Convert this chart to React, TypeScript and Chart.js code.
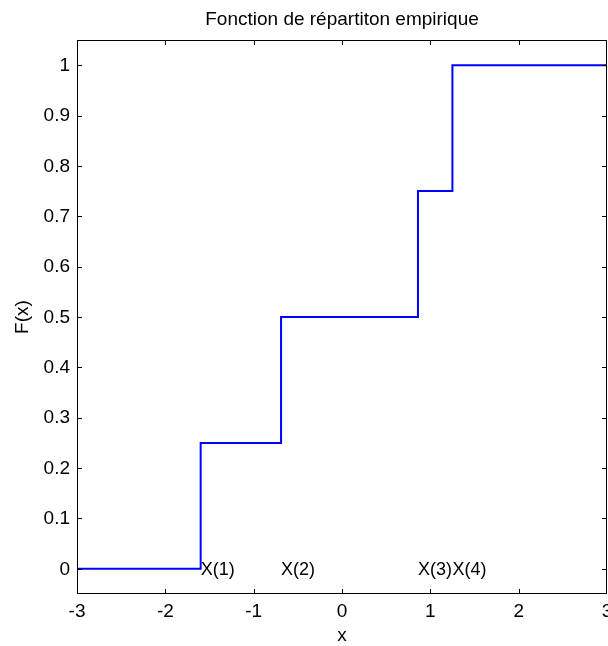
import React, { useEffect, useRef } from "react";
import { Chart, registerables } from "chart.js";

Chart.register(...registerables);

// ---- data ----
const titleText = "Fonction de répartiton empirique";
const xTitle = "x";
const yTitle = "F(x)";
const sampleX = [-1.6, -0.69, 0.86, 1.25]; // ordered sample X(1)..X(4)
const cdfValues = [0.25, 0.5, 0.75, 1];
const sampleLabels = ["X(1)", "X(2)", "X(3)", "X(4)"];
const xRange = [-3, 3];
const yRange = [-0.05, 1.05];
const startValue = 0;
const xTicks = [-3, -2, -1, 0, 1, 2, 3];
const xTickLabels = ["-3", "-2", "-1", "0", "1", "2", "3"];
const yTicks = [0, 0.1, 0.2, 0.3, 0.4, 0.5, 0.6, 0.7, 0.8, 0.9, 1];
const yTickLabels = ["0", "0.1", "0.2", "0.3", "0.4", "0.5", "0.6", "0.7", "0.8", "0.9", "1"];

const FONT = "'Liberation Sans', Arial, sans-serif";

const decor = {
  id: "decor",
  afterDraw(chart: any) {
    const { ctx, chartArea: a, scales } = chart;
    const xs = scales.x;
    const ys = scales.y;
    ctx.save();
    // axes box
    ctx.strokeStyle = "#000";
    ctx.lineWidth = 1;
    ctx.strokeRect(Math.round(a.left) + 0.5, Math.round(a.top) + 0.5, Math.round(a.right - a.left) - 1, Math.round(a.bottom - a.top) - 1);
    // inward tick marks on all four sides
    const tl = 5;
    ctx.beginPath();
    xTicks.forEach((v) => {
      const px = Math.min(Math.round(xs.getPixelForValue(v)), Math.round(a.right) - 1) + 0.5;
      ctx.moveTo(px, a.bottom);
      ctx.lineTo(px, a.bottom - tl);
      ctx.moveTo(px, a.top);
      ctx.lineTo(px, a.top + tl);
    });
    yTicks.forEach((v) => {
      const py = Math.round(ys.getPixelForValue(v)) + 0.5;
      ctx.moveTo(a.left, py);
      ctx.lineTo(a.left + tl, py);
      ctx.moveTo(a.right, py);
      ctx.lineTo(a.right - tl, py);
    });
    ctx.stroke();

    ctx.fillStyle = "#000";
    // tick labels
    ctx.font = `19px ${FONT}`;
    ctx.textBaseline = "middle";
    ctx.textAlign = "center";
    xTicks.forEach((v, i) => {
      ctx.fillText(xTickLabels[i], xs.getPixelForValue(v), 612);
    });
    ctx.textAlign = "right";
    yTicks.forEach((v, i) => {
      ctx.fillText(yTickLabels[i], a.left - 7, ys.getPixelForValue(v) + 0.5);
    });
    // sample labels
    ctx.font = `18px ${FONT}`;
    ctx.textAlign = "left";
    sampleX.forEach((v, i) => {
      ctx.fillText(sampleLabels[i], xs.getPixelForValue(v), ys.getPixelForValue(0) + 1);
    });
    // title
    ctx.font = `19px ${FONT}`;
    ctx.textAlign = "center";
    ctx.textBaseline = "alphabetic";
    ctx.fillText(titleText, (a.left + a.right) / 2, 25);
    // x title
    ctx.fillText(xTitle, (a.left + a.right) / 2, 641);
    // y title
    ctx.save();
    ctx.translate(28, (a.top + a.bottom) / 2);
    ctx.rotate(-Math.PI / 2);
    ctx.fillText(yTitle, 0, 0);
    ctx.restore();
    ctx.restore();
  },
};

export default function App() {
  const ref = useRef<HTMLCanvasElement>(null);
  useEffect(() => {
    if (!ref.current) return;
    const pts = [{ x: xRange[0], y: startValue }]
      .concat(sampleX.map((x, i) => ({ x, y: cdfValues[i] })))
      .concat([{ x: xRange[1], y: cdfValues[cdfValues.length - 1] }]);
    const chart = new Chart(ref.current, {
      type: "scatter",
      data: {
        datasets: [
          {
            data: pts,
            showLine: true,
            stepped: "before",
            borderColor: "#0000ff",
            borderWidth: 2,
            pointRadius: 0,
            fill: false,
          } as any,
        ],
      },
      options: {
        animation: false,
        responsive: false,
        devicePixelRatio: 1,
        layout: { padding: { top: 40, right: 1, left: 0, bottom: 0 }, autoPadding: false } as any,
        plugins: { legend: { display: false }, tooltip: { enabled: false }, title: { display: false } },
        scales: {
          x: {
            type: "linear",
            min: xRange[0],
            max: xRange[1],
            afterBuildTicks: (s: any) => {
              s.ticks = xTicks.map((v) => ({ value: v }));
            },
            afterFit: (s: any) => {
              s.height = 52;
              s.paddingLeft = 0;
              s.paddingRight = 0;
            },
            grid: { display: false },
            border: { display: false },
            ticks: { display: false },
          },
          y: {
            type: "linear",
            min: yRange[0],
            max: yRange[1],
            afterBuildTicks: (s: any) => {
              s.ticks = yTicks.map((v) => ({ value: v }));
            },
            afterFit: (s: any) => {
              s.width = 77;
              s.paddingTop = 0;
              s.paddingBottom = 0;
            },
            grid: { display: false },
            border: { display: false },
            ticks: { display: false },
          },
        },
      },
      plugins: [decor],
    });
    return () => chart.destroy();
  }, []);
  return (
    <div style={{ position: "fixed", left: 0, top: 0, width: 608, height: 646, background: "#fff" }}>
      <canvas ref={ref} width={608} height={646} style={{ width: 608, height: 646 }} />
    </div>
  );
}
